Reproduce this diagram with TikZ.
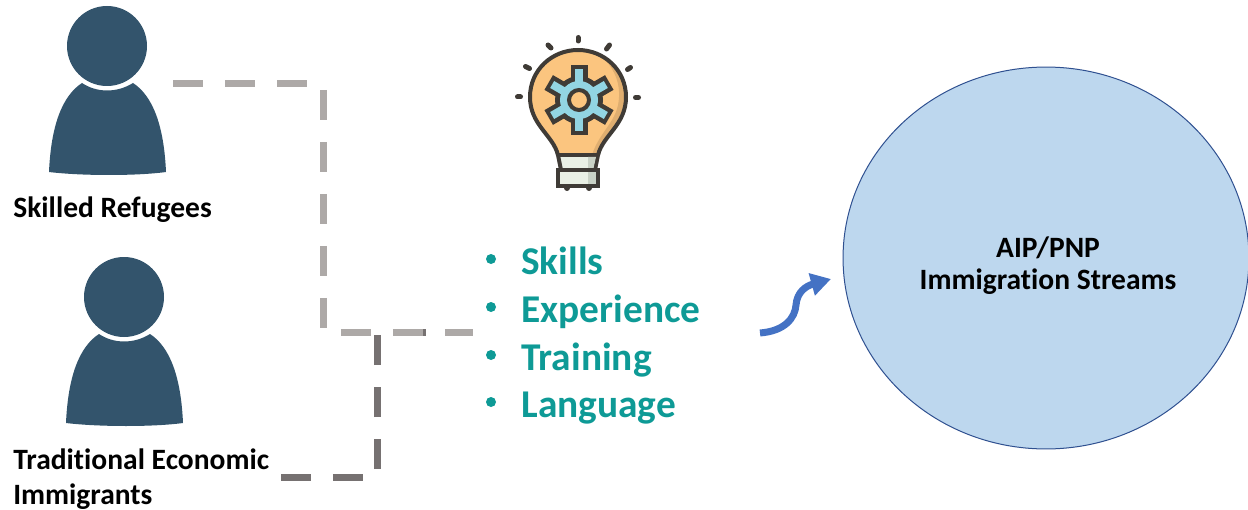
\documentclass[tikz,border=0pt]{standalone}
\usepackage{fontspec}
\setmainfont{Carlito}[Ligatures=NoCommon]
\usetikzlibrary{arrows.meta, shapes.geometric}
\definecolor{personblue}{HTML}{33546C}
\definecolor{dashlight}{HTML}{ADA9A7}
\definecolor{dashdark}{HTML}{767171}
\definecolor{listteal}{HTML}{0E9A96}
\definecolor{circlefill}{HTML}{BDD7EE}
\definecolor{circleline}{HTML}{2F5090}
\definecolor{arrowblue}{HTML}{4472C4}
\definecolor{bulbline}{HTML}{3F3B36}
\definecolor{bulbfill}{HTML}{FBC57F}
\definecolor{bulbshade}{HTML}{DFAE70}
\definecolor{gearblue}{HTML}{92D5E3}
\definecolor{basefill}{HTML}{E9F0E5}
\definecolor{baseshade}{HTML}{C9D2C6}
\tikzset{
	person/.pic={
		\fill[personblue] (0, 0) circle (40);
		\fill[personblue] (-25, 37) .. controls (-10, 47) and (10, 47) .. (26, 37)
			.. controls (46, 50) and (57, 80) .. (59, 126)
			.. controls (30, 130) and (-25, 130) .. (-58, 126)
			.. controls (-56, 80) and (-45, 50) .. (-25, 37) -- cycle;
	},
	personlabel/.style={font=\bfseries\fontsize{16.8pt}{20pt}\selectfont, anchor=base west, inner sep=0pt},
	listlabel/.style={font=\bfseries\fontsize{22.4pt}{26pt}\selectfont, text=listteal, anchor=base west, inner sep=0pt},
	circlelabel/.style={font=\bfseries\fontsize{16.8pt}{18.2pt}\selectfont, align=center, inner sep=0pt},
	streamcircle/.style={ellipse, draw=circleline, fill=circlefill, line width=0.02cm, minimum width=8.12cm, minimum height=7.64cm, inner sep=0pt},
	dashlink/.style={line width=0.14cm, dash pattern=on 0.6cm off 0.44cm},
	ray/.style={line width=0.1cm, line cap=round, bulbline},
	bulbedge/.style={line width=0.08cm, bulbline},
}
\begin{document}
\begin{tikzpicture}[x=0.02cm, y=-0.02cm]
	\useasboundingbox (0, 0) rectangle (1248, 510);

	% people
	\pic at (107, 46) {person};
	\pic at (124, 297) {person};
	\node[personlabel] (refugees) at (13, 217) {Skilled Refugees};
	\node[personlabel] (traditional) at (13, 469) {Traditional Economic};
	\node[personlabel] (immigrants) at (13, 504) {Immigrants};

	% dashed links
	\coordinate (refugeeout) at (173, 84);
	\coordinate (refugeecorner) at (323, 84);
	\coordinate (refugeedown) at (323, 332);
	\coordinate (traditionalout) at (281, 477);
	\coordinate (traditionalcorner) at (377, 477);
	\coordinate (traditionalup) at (377, 332);
	\coordinate (listin) at (473, 332);
	\draw[dashlink, dashdark] (traditionalout) -- (traditionalcorner) -- (traditionalup) -- (listin);
	\draw[dashlink, dashlight] (refugeeout) -- (refugeecorner) -- (refugeedown) -- (listin);

	% bulb
	\foreach \a/\b/\c/\d in {578/37.5/578/41, 548/45/551/48, 525.5/66.5/529.5/68.5, 517.5/97/520.5/97, 635.5/97.5/638.5/97.5, 627.5/69.5/630.5/67.5, 606.5/49/609.5/45} {
		\draw[ray] (\a, \b) -- (\c, \d);
	}
	\path[fill=bulbfill] (558, 155) .. controls (553, 135) and (530, 125) .. (530, 97)
		.. controls (530, 70) and (552, 50) .. (578, 50)
		.. controls (604, 50) and (626, 70) .. (626, 97)
		.. controls (626, 125) and (603, 135) .. (598, 155) -- cycle;
	\path[fill=bulbshade] (598, 155) .. controls (603, 135) and (626, 125) .. (626, 97)
		.. controls (626, 78) and (615, 62) .. (600, 55)
		.. controls (612, 65) and (620, 80) .. (619, 97)
		.. controls (618, 122) and (600, 130) .. (592, 155) -- cycle;
	\draw[bulbedge] (558, 155) .. controls (553, 135) and (530, 125) .. (530, 97)
		.. controls (530, 70) and (552, 50) .. (578, 50)
		.. controls (604, 50) and (626, 70) .. (626, 97)
		.. controls (626, 125) and (603, 135) .. (598, 155);
	\foreach \x in {567, 589} {
		\fill[bulbline] (\x, 188) circle (3);
	}
	\draw[bulbedge, fill=basefill] (558, 155) -- (598, 155) -- (595, 170) -- (561, 170) -- cycle;
	\draw[bulbedge, fill=basefill] (558, 170) -- (598, 170) -- (598, 186) -- (558, 186) -- cycle;
	\fill[baseshade] (588, 157) -- (596, 157) -- (593.5, 168) -- (588, 168) -- cycle;
	\fill[baseshade] (588, 172) -- (596, 172) -- (596, 184) -- (588, 184) -- cycle;

	% gear
	\foreach \r in {30, 90, 150} {
		\fill[bulbline, rotate around={\r:(579, 100)}] (544, 91.5) rectangle (614, 108.5);
	}
	\fill[bulbline] (579, 100) circle (24);
	\foreach \r in {30, 90, 150} {
		\fill[gearblue, rotate around={\r:(579, 100)}] (548, 96) rectangle (610, 104);
	}
	\fill[gearblue] (579, 100) circle (19);
	\draw[bulbedge, fill=bulbfill] (579, 100) circle (10);

	% list
	\foreach \t/\y in {Skills/274, Experience/322, Training/370, Language/417} {
		\fill[listteal] (491, \y-15) circle (5);
		\node[listlabel] (list\t) at (521, \y) {\t};
	}

	% arrow
	\coordinate (arrowstart) at (760, 333);
	\coordinate (arrowend) at (831, 279);
	\draw[line width=0.14cm, arrowblue, -{Triangle[length=0.4cm, width=0.44cm]}] (arrowstart)
		.. controls (785, 331) and (795, 318) .. (796, 305)
		.. controls (797, 292) and (806, 286) .. (arrowend);

	% streams
	\node[streamcircle] (streams) at (1046, 258) {};
	\node[circlelabel] (streamstext) at (1048, 266) {AIP/PNP\\Immigration Streams};
\end{tikzpicture}
\end{document}
